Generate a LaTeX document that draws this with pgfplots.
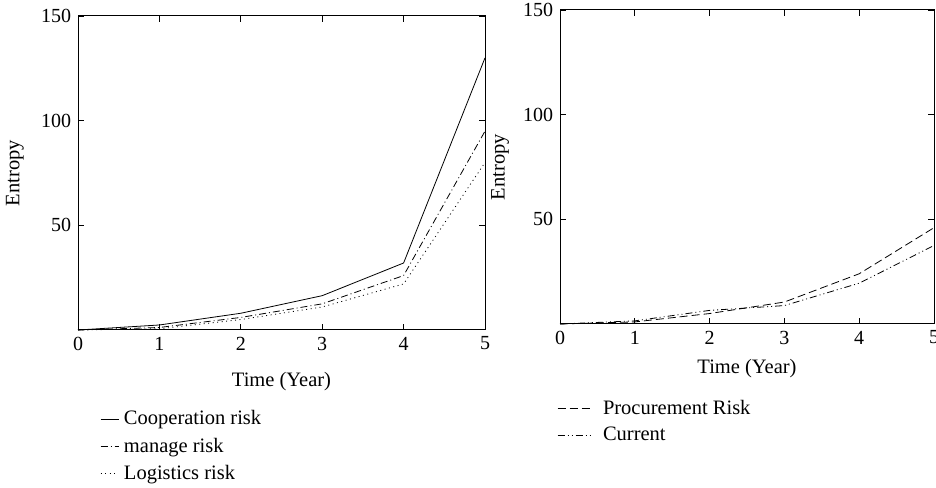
\documentclass[border=0pt]{standalone}
\usepackage{pgfplots}
\pgfplotsset{compat=1.18}
\usepackage{fontspec}
\setmainfont{Liberation Serif}
\begin{document}
\fontsize{20}{24}\selectfont
\begin{tikzpicture}
\useasboundingbox (0pt,0pt) rectangle (936pt,487pt);
\pgfplotsset{
  myax/.style={
    scale only axis, height=314pt,
    xmin=0, xmax=5, ymin=0, ymax=150,
    xtick={0,1,2,3,4,5}, ytick={50,100,150},
    tick align=inside, major tick length=6pt,
    axis line style={line width=1pt},
    tick style={line width=0.8pt, black},
    /pgf/number format/assume math mode=true,
    ticklabel style={font=\fontsize{20}{24}\selectfont},
    label style={font=\fontsize{20.5}{24}\selectfont},
    xlabel={Time (Year)}, ylabel={Entropy},
    legend cell align=left,
    legend style={draw=none, fill=none, font=\fontsize{20.5}{24}\selectfont, row sep=6pt, inner sep=0pt},
    every axis plot/.append style={line width=0.8pt, black},
    clip=false,
  }
}
\begin{axis}[myax, width=407pt, anchor=south west, at={(78pt,157pt)},
  xlabel style={at={(axis description cs:0.5,-0.163)}, anchor=center},
  ylabel style={at={(axis description cs:-0.155,0.5)}, anchor=center},
  legend image code/.code={\draw[#1] (0pt,0pt) -- (18pt,0pt); \path (21pt,0pt);},
  legend style={at={(axis description cs:0.054,-0.25)}, anchor=north west}]
\addplot[solid] coordinates {(0,0) (1,2.4) (2,8) (3,16.4) (4,32) (5,130)};
\addlegendentry{Cooperation risk}
\addplot[dash pattern=on 7pt off 3pt on 1pt off 3pt] coordinates {(0,0) (1,1.2) (2,6) (3,12.5) (4,26) (5,95)};
\addlegendentry{manage risk}
\addplot[dash pattern=on 1pt off 3.5pt] coordinates {(0,0) (1,0.6) (2,5) (3,11) (4,22) (5,80)};
\addlegendentry{Logistics risk}
\end{axis}
\begin{axis}[myax, width=374pt, anchor=south west, at={(560pt,163pt)},
  xlabel style={at={(axis description cs:0.5,-0.143)}, anchor=center},
  ylabel style={at={(axis description cs:-0.16,0.5)}, anchor=center},
  legend image code/.code={\draw[#1] (0pt,0pt) -- (34pt,0pt); \path (43pt,0pt);},
  legend style={at={(axis description cs:-0.008,-0.235)}, anchor=north west}]
\addplot[dash pattern=on 8pt off 4pt] coordinates {(0,0) (1,1) (2,5) (3,10.5) (4,24) (5,46)};
\addlegendentry{Procurement Risk}
\addplot[dash pattern=on 7pt off 3pt on 1pt off 3pt on 1pt off 3pt] coordinates {(0,0) (1,1.5) (2,6.5) (3,8.8) (4,19.5) (5,37.5)};
\addlegendentry{Current}
\end{axis}
\end{tikzpicture}
\end{document}
